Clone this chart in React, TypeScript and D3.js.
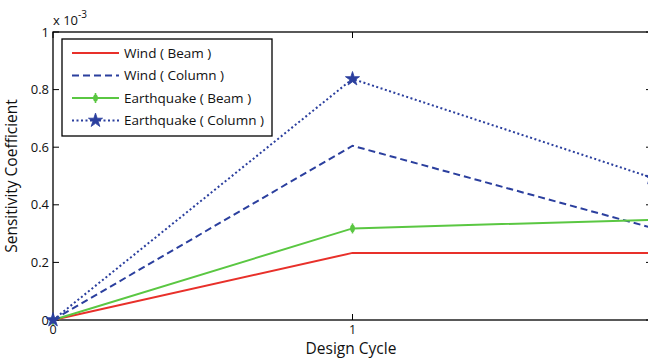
import React from 'react'
import * as d3 from 'd3'

const width = 648
const height = 359
const margin = { left: 53, top: 32, right: -4, bottom: 39 }

const cycles = [0, 1, 2]
const windBeam = [0, 0.233, 0.233]
const windColumn = [0, 0.605, 0.32]
const quakeBeam = [0, 0.318, 0.348]
const quakeColumn = [0, 0.837, 0.494]
const yTicks = [0, 0.2, 0.4, 0.6, 0.8, 1]
const xTicks = [0, 1, 2]

const series = [
  { name: 'Wind ( Beam )', values: windBeam, color: '#e8302a', dash: '', marker: '' },
  { name: 'Wind ( Column )', values: windColumn, color: '#2b3f9e', dash: '7,4', marker: '' },
  { name: 'Earthquake ( Beam )', values: quakeBeam, color: '#5ac742', dash: '', marker: 'plus' },
  { name: 'Earthquake ( Column )', values: quakeColumn, color: '#2b3f9e', dash: '2,2.5', marker: 'star' },
]

const font = 'Open Sans, Lato, sans-serif'

function Marker({ type, x, y, color }: { type: string; x: number; y: number; color: string }) {
  if (type === 'star') {
    const path = d3.symbol(d3.symbolStar, 62)()
    return <path d={path || ''} transform={`translate(${x},${y})`} fill={color} stroke={color} strokeWidth={0.8} />
  }
  if (type === 'plus') {
    return (
      <g transform={`translate(${x},${y})`}>
        <ellipse rx={2.4} ry={3.6} fill={color} />
        <line x1={0} x2={0} y1={-5} y2={5} stroke={color} strokeWidth={1.6} />
      </g>
    )
  }
  return null
}

export default function App() {
  const x = d3
    .scaleLinear()
    .domain([0, 2])
    .range([margin.left, width - margin.right])
  const y = d3
    .scaleLinear()
    .domain([0, 1])
    .range([height - margin.bottom, margin.top])

  const line = d3
    .line<number>()
    .x((d, i) => x(cycles[i]))
    .y((d) => y(d))

  const x0 = x(0)
  const x1 = x(2)
  const y0 = y(0)
  const y1 = y(1)

  return (
    <svg
      width={width}
      height={height}
      style={{ position: 'absolute', left: 0, top: 0, background: 'white' }}
      fontFamily={font}
    >
      {/* ticks */}
      {yTicks.map((t) => (
        <g key={'y' + t}>
          <line x1={x0} x2={x0 + 6} y1={y(t)} y2={y(t)} stroke="#000" />
          <line x1={x1} x2={x1 - 6} y1={y(t)} y2={y(t)} stroke="#000" />
          <text x={x0 - 4} y={y(t)} dy="0.35em" textAnchor="end" fontSize={13} fill="#111">
            {t === 0 ? '0' : t === 1 ? '1' : t.toFixed(1)}
          </text>
        </g>
      ))}
      {xTicks.map((t) => (
        <g key={'x' + t}>
          <line x1={x(t)} x2={x(t)} y1={y0} y2={y0 - 6} stroke="#000" />
          <line x1={x(t)} x2={x(t)} y1={y1} y2={y1 + 6} stroke="#000" />
          <text x={x(t)} y={y0 + 13.5} textAnchor="middle" fontSize={12.5} fill="#111">
            {t}
          </text>
        </g>
      ))}
      <rect x={x0} y={y1} width={x1 - x0} height={y0 - y1} fill="none" stroke="#000" strokeWidth={1.3} />

      {/* lines */}
      {series.map((s) => (
        <g key={s.name}>
          <path d={line(s.values) || ''} fill="none" stroke={s.color} strokeWidth={2} strokeDasharray={s.dash} />
          {s.marker &&
            s.values.map((v, i) => <Marker key={i} type={s.marker} x={x(cycles[i])} y={y(v)} color={s.color} />)}
        </g>
      ))}

      {/* legend */}
      <g transform="translate(62,39)">
        <rect x={0} y={0} width={210} height={97} fill="white" stroke="#000" strokeWidth={1.3} />
        {series.map((s, i) => {
          const ly = 14 + i * 22.5
          return (
            <g key={s.name}>
              <line x1={10} x2={57} y1={ly} y2={ly} stroke={s.color} strokeWidth={2} strokeDasharray={s.dash} />
              <Marker type={s.marker} x={33.5} y={ly} color={s.color} />
              <text x={62} y={ly} dy="0.35em" fontSize={13.5} fill="#111">
                {s.name}
              </text>
            </g>
          )
        })}
      </g>

      {/* labels */}
      <text x={53} y={25} fontSize={13} fill="#111">
        x 10
        <tspan dy={-7} fontSize={10}>
          -3
        </tspan>
      </text>
      <text x={351} y={353.5} textAnchor="middle" fontSize={15.5} fill="#111">
        Design Cycle
      </text>
      <text
        transform={`translate(17,${(y0 + y1) / 2}) rotate(-90)`}
        textAnchor="middle"
        fontSize={15.5}
        fill="#111"
      >
        Sensitivity Coefficient
      </text>
    </svg>
  )
}
